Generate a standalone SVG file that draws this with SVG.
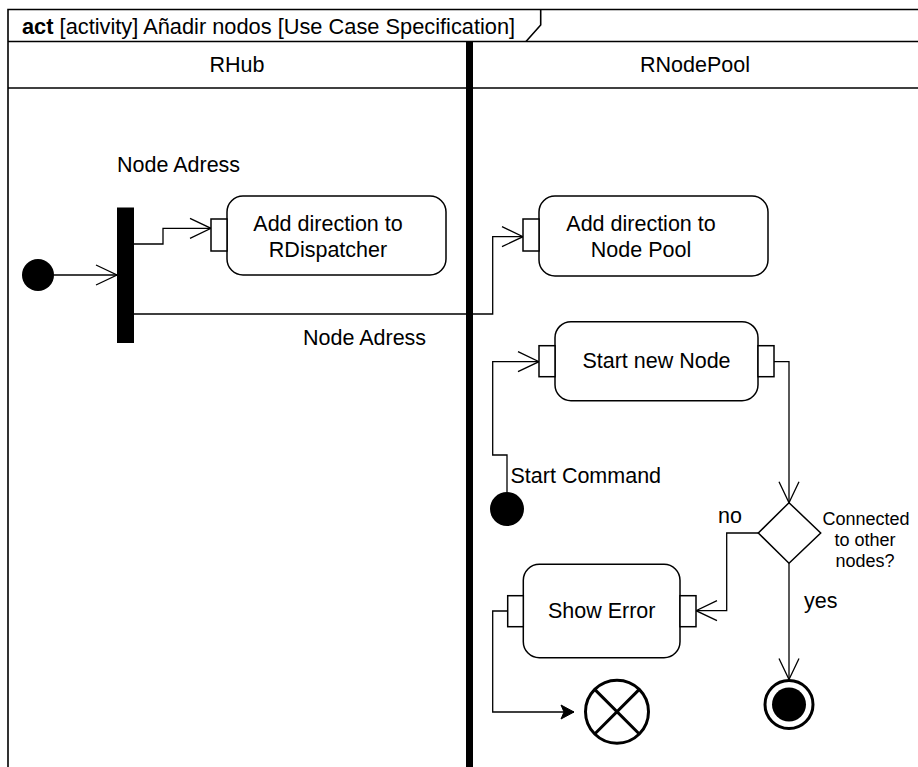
<svg xmlns="http://www.w3.org/2000/svg" width="918" height="767" viewBox="0 0 918 767">
  <style>
    text { font-family: "Liberation Sans", Arial, sans-serif; font-size: 21.5px; fill: #000; }
    .mid { text-anchor: middle; }
    .small { font-size: 18px; }
    .title { font-size: 21.8px; }
    .frame { fill: none; stroke: #000; stroke-width: 1.6; }
    .action { fill: #fff; stroke: #000; stroke-width: 1.5; }
    .pin { fill: #fff; stroke: #000; stroke-width: 1.5; }
    .flow { fill: none; stroke: #000; stroke-width: 1.3; }
    .open { marker-end: url(#openArrow); }
  </style>
  <defs>
    <marker id="openArrow" markerUnits="userSpaceOnUse" viewBox="-24 -12 26 24" markerWidth="26" markerHeight="24" refX="0" refY="0" orient="auto">
      <path d="M-21,-10 L0,0 L-21,10" fill="none" stroke="#000" stroke-width="1.3"/>
    </marker>
    <marker id="solidArrow" markerUnits="userSpaceOnUse" viewBox="-14 -8 15 16" markerWidth="15" markerHeight="16" refX="0" refY="0" orient="auto">
      <path d="M0,0 L-13,-7 L-10,0 L-13,7 Z" fill="#000" stroke="#000" stroke-width="1"/>
    </marker>
  </defs>

  <rect width="918" height="767" fill="#fff"/>

  <!-- activity frame with title tab and swimlane headers -->
  <g id="frame">
    <path class="frame" d="M8,767 V9.5 H918"/>
    <line class="frame" x1="8" y1="41.5" x2="918" y2="41.5"/>
    <line class="frame" x1="8" y1="88" x2="918" y2="88"/>
    <path class="frame" d="M540.7,9.5 V25 L526,41.5"/>
    <text class="title" x="22" y="34"><tspan font-weight="bold">act</tspan> [activity] Añadir nodos [Use Case Specification]</text>
    <rect x="466" y="41.5" width="7" height="725.5" fill="#000"/>
  </g>
  <g id="lane-rhub">
    <text class="mid" x="237" y="72">RHub</text>
  </g>
  <g id="lane-rnodepool">
    <text class="mid" x="695" y="72">RNodePool</text>
  </g>

  <!-- control and object flows -->
  <g id="connectors">
    <path class="flow open" d="M54,275 H117"/>
    <path class="flow open" d="M134,244 H163 V228.3 H211"/>
    <path class="flow open" d="M134,314 H492.7 V236.7 H523"/>
    <path class="flow open" d="M507,492 V455 H492.7 V361.7 H539"/>
    <path class="flow open" d="M774,361.7 H789 V502.7"/>
    <path class="flow open" d="M758.3,533 H726.7 V610.7 H696"/>
    <path class="flow open" d="M789,563.3 V679.5"/>
    <path class="flow" d="M507.7,611 H492.7 V712 H574" marker-end="url(#solidArrow)"/>
    <text x="117" y="171.7">Node Adress</text>
    <text x="303" y="345">Node Adress</text>
    <text x="510.5" y="483">Start Command</text>
    <text x="718" y="522.7">no</text>
    <text x="804" y="608">yes</text>
  </g>

  <g id="initial">
    <circle cx="38" cy="275" r="16" fill="#000"/>
  </g>

  <g id="fork">
    <rect x="117" y="207.5" width="17" height="135.5" fill="#000"/>
  </g>

  <g id="add-direction-rdispatcher">
    <rect class="action" x="227" y="196" width="219" height="79" rx="16" ry="16"/>
    <rect class="pin" x="211" y="219" width="16" height="32"/>
    <text class="mid" x="328" y="230.5">Add direction to</text>
    <text class="mid" x="328" y="256.5">RDispatcher</text>
  </g>

  <g id="add-direction-node-pool">
    <rect class="action" x="539" y="196" width="229" height="80" rx="16" ry="16"/>
    <rect class="pin" x="523" y="219" width="16" height="32"/>
    <text class="mid" x="641" y="230.5">Add direction to</text>
    <text class="mid" x="641" y="256.5">Node Pool</text>
  </g>

  <g id="start-new-node">
    <rect class="action" x="555" y="321.7" width="203" height="79" rx="16" ry="16"/>
    <rect class="pin" x="539" y="345.7" width="16" height="31"/>
    <rect class="pin" x="758" y="345.7" width="16" height="31"/>
    <text class="mid" x="656.5" y="368">Start new Node</text>
  </g>

  <g id="start-command">
    <circle cx="507" cy="509" r="17" fill="#000"/>
  </g>

  <g id="decision">
    <path d="M789,502.7 L820.7,533 L789,563.3 L758.3,533 Z" fill="#fff" stroke="#000" stroke-width="1.5"/>
    <text class="mid small" x="866" y="525">Connected</text>
    <text class="mid small" x="865" y="546">to other</text>
    <text class="mid small" x="865" y="567">nodes?</text>
  </g>

  <g id="show-error">
    <rect class="action" x="523.3" y="564.3" width="156.7" height="93.4" rx="16" ry="16"/>
    <rect class="pin" x="507.7" y="595.7" width="15.6" height="31"/>
    <rect class="pin" x="680" y="595.7" width="16" height="31"/>
    <text class="mid" x="601.7" y="618">Show Error</text>
  </g>

  <g id="flow-final">
    <circle cx="617" cy="711.7" r="31.5" fill="#fff" stroke="#000" stroke-width="3"/>
    <path d="M594.7,689.4 L639.3,734 M639.3,689.4 L594.7,734" stroke="#000" stroke-width="3"/>
  </g>

  <g id="activity-final">
    <circle cx="789" cy="704.5" r="24" fill="#fff" stroke="#000" stroke-width="3"/>
    <circle cx="789" cy="704.5" r="17" fill="#000"/>
  </g>
</svg>
